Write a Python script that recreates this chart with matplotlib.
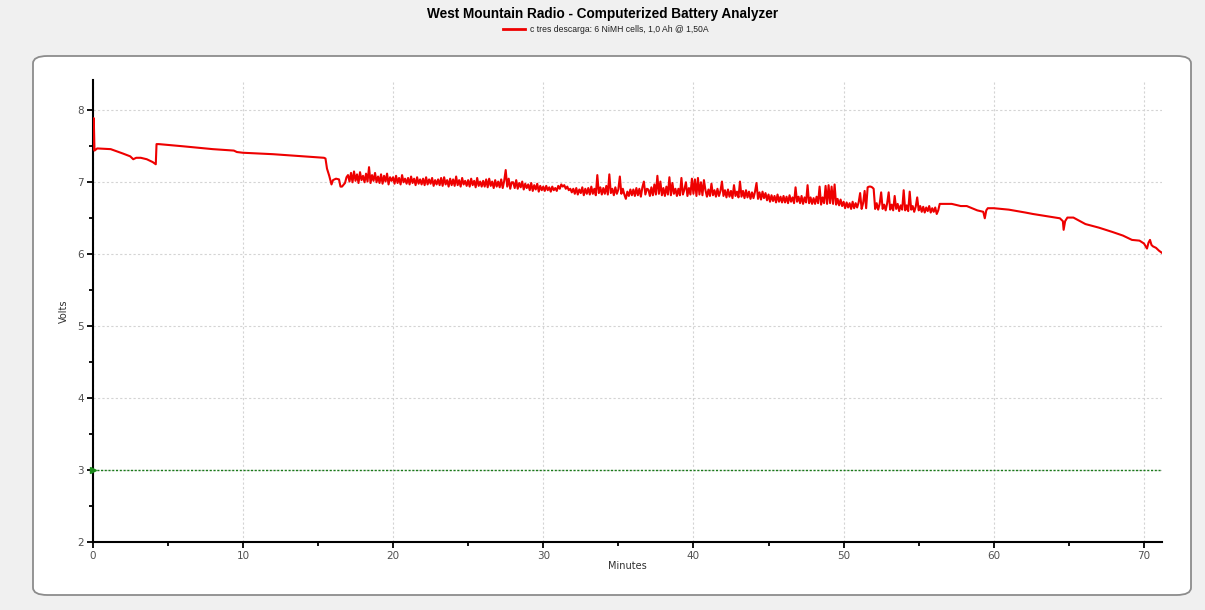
import numpy as np
import matplotlib
matplotlib.use("Agg")
import matplotlib.pyplot as plt
from matplotlib.patches import FancyBboxPatch
from matplotlib.lines import Line2D
from matplotlib.ticker import MultipleLocator

# ---------------- data ----------------
title = "West Mountain Radio - Computerized Battery Analyzer"
series_label = "c tres descarga: 6 NiMH cells, 1,0 Ah @ 1,50A"
x_label = "Minutes"
y_label = "Volts"
cutoff_voltage = 3.0

# start of discharge (minutes, volts)
pre_t = [0.02, 0.07, 0.12, 0.3, 1.2, 1.6, 2.0, 2.5, 2.7, 2.9, 3.2, 3.6, 4.0,
         4.2, 4.25, 4.4, 6, 8, 9.4, 9.6, 10, 12, 14, 15.4, 15.5, 15.6, 15.75,
         15.9, 16.0, 16.2, 16.4, 16.5, 16.6, 16.8, 16.9]
pre_v = [7.45, 7.88, 7.43, 7.46, 7.45, 7.42, 7.39, 7.35, 7.31, 7.33, 7.33, 7.31,
         7.27, 7.24, 7.52, 7.52, 7.49, 7.45, 7.43, 7.41, 7.40, 7.38, 7.35, 7.33,
         7.32, 7.18, 7.08, 6.96, 7.02, 7.04, 7.03, 6.93, 6.93, 6.98, 7.06]

# noisy middle part, logged every 0.1 min starting at 17.0 min
noisy_start = 17.0
noisy_step = 0.1
noisy_v = [
    7.09, 7.00, 7.12, 6.99, 7.14, 7.01, 7.10, 6.98, 7.13, 7.02,
    7.08, 6.99, 7.11, 7.00, 7.20, 6.98, 7.09, 7.01, 7.12, 6.99,
    7.07, 6.98, 7.10, 6.97, 7.08, 7.00, 7.11, 6.96, 7.06, 7.01,
    7.06, 6.97, 7.08, 6.98, 7.05, 6.96, 7.09, 6.99, 7.04, 6.97,
    7.05, 6.96, 7.07, 6.98, 7.04, 6.95, 7.06, 6.97, 7.03, 6.96,
    7.04, 6.95, 7.06, 6.96, 7.03, 6.97, 7.05, 6.94, 7.02, 6.96,
    7.03, 6.95, 7.05, 6.94, 7.06, 6.96, 7.02, 6.93, 7.04, 6.95,
    7.03, 6.94, 7.07, 6.95, 7.02, 6.93, 7.05, 6.96, 7.01, 6.94,
    7.02, 6.93, 7.04, 6.95, 7.01, 6.92, 7.05, 6.94, 7.00, 6.93,
    7.01, 6.93, 7.03, 6.92, 7.04, 6.94, 7.00, 6.91, 7.02, 6.93,
    7.00, 6.92, 7.03, 6.91, 7.01, 7.16, 6.93, 7.04, 6.90, 6.99,
    6.99, 6.91, 7.02, 6.90, 6.98, 6.92, 7.00, 6.89, 6.97, 6.91,
    6.96, 6.88, 6.98, 6.87, 6.95, 6.89, 6.97, 6.86, 6.94, 6.88,
    6.93, 6.87, 6.94, 6.88, 6.92, 6.86, 6.93, 6.88, 6.91, 6.87,
    6.94, 6.90, 6.96, 6.93, 6.95, 6.90, 6.93, 6.88, 6.90, 6.85,
    6.90, 6.83, 6.91, 6.82, 6.89, 6.84, 6.92, 6.81, 6.90, 6.83,
    6.91, 6.82, 6.93, 6.83, 6.90, 6.81, 7.09, 6.84, 6.92, 6.82,
    6.91, 6.83, 6.94, 6.82, 7.10, 6.84, 6.90, 6.81, 6.92, 6.83,
    6.89, 7.07, 6.83, 6.90, 6.82, 6.76, 6.86, 6.80, 6.89, 6.81,
    6.89, 6.80, 6.91, 6.81, 6.90, 6.79, 6.92, 7.00, 6.82, 6.90,
    6.89, 6.80, 6.92, 6.81, 6.96, 6.82, 7.08, 6.83, 7.00, 6.81,
    6.91, 6.80, 6.93, 6.82, 7.06, 6.81, 6.98, 6.83, 6.90, 6.80,
    6.90, 6.81, 7.05, 6.82, 6.89, 6.99, 6.80, 6.91, 6.82, 7.04,
    6.83, 7.03, 6.80, 7.05, 6.82, 6.99, 6.81, 7.02, 6.88, 6.79,
    6.89, 6.80, 6.97, 6.81, 6.88, 6.79, 6.90, 6.80, 6.87, 7.00,
    6.80, 6.88, 6.78, 6.89, 6.79, 6.87, 6.77, 6.95, 6.80, 6.86,
    6.78, 7.00, 6.79, 6.87, 6.77, 6.88, 6.78, 6.86, 6.76, 6.85,
    6.77, 6.86, 6.98, 6.76, 6.85, 6.75, 6.86, 6.77, 6.84, 6.74,
    6.82, 6.72, 6.81, 6.73, 6.80, 6.71, 6.82, 6.72, 6.79, 6.71,
    6.80, 6.71, 6.79, 6.70, 6.81, 6.72, 6.78, 6.70, 6.92, 6.72,
    6.79, 6.70, 6.80, 6.69, 6.78, 6.71, 6.95, 6.70, 6.78, 6.69,
    6.77, 6.69, 6.79, 6.70, 6.93, 6.68, 6.78, 6.70, 6.94, 6.69,
    6.95, 6.70, 6.93, 6.69, 6.96, 6.68, 6.76, 6.67, 6.75, 6.66,
    6.72, 6.63, 6.71, 6.64, 6.70, 6.62, 6.72, 6.63, 6.70, 6.64,
    6.71, 6.84, 6.62, 6.70, 6.87, 6.63, 6.92, 6.93, 6.93, 6.92,
    6.90, 6.62, 6.70, 6.61, 6.69, 6.85, 6.62, 6.68, 6.60, 6.70,
    6.85, 6.61, 6.68, 6.60, 6.80, 6.62, 6.69, 6.59, 6.67, 6.61,
    6.88, 6.60, 6.67, 6.59, 6.86, 6.61, 6.66, 6.58, 6.65, 6.78,
    6.60, 6.66, 6.58, 6.65, 6.57, 6.64, 6.59, 6.66, 6.57, 6.63,
    6.58, 6.64, 6.55, 6.60,
]

# end of discharge
tail_t = [56.4, 57.2, 57.8, 58.2, 58.9, 59.3, 59.4, 59.5, 59.6, 60.0, 61.0,
          62.1, 62.6, 63.5, 64.4, 64.6, 64.65, 64.75, 64.9, 65.3, 66.1, 67.0,
          67.9, 68.6, 69.2, 69.7, 70.0, 70.2, 70.3, 70.4, 70.5, 70.6, 70.8,
          71.0, 71.2]
tail_v = [6.69, 6.69, 6.66, 6.66, 6.60, 6.58, 6.49, 6.60, 6.63, 6.63, 6.61,
          6.57, 6.55, 6.52, 6.49, 6.45, 6.33, 6.45, 6.50, 6.50, 6.41, 6.36,
          6.30, 6.25, 6.19, 6.18, 6.14, 6.07, 6.15, 6.19, 6.12, 6.10, 6.08,
          6.04, 6.01]

x_ticks = [0, 10, 20, 30, 40, 50, 60, 70]
y_ticks = [2, 3, 4, 5, 6, 7, 8]

noisy_t = noisy_start + noisy_step * np.arange(len(noisy_v))
t_all = np.concatenate([pre_t, noisy_t, tail_t])
v_all = np.concatenate([pre_v, noisy_v, tail_v])

# ---------------- figure ----------------
W, H = 1205, 610
fig = plt.figure(figsize=(W / 100, H / 100), dpi=100)
fig.patch.set_facecolor("#f0f0f0")

panel = FancyBboxPatch((33 / W, 1 - 595 / H), (1191 - 33) / W, (595 - 56) / H,
                       boxstyle="round,pad=0,rounding_size=0.012",
                       transform=fig.transFigure, facecolor="white",
                       edgecolor="#8c8c8c", linewidth=1.3, zorder=-5)
fig.patches.append(panel)

ax = fig.add_axes([92.7 / W, 1 - 541.7 / H, (1162.3 - 92.7) / W, (541.7 - 80) / H])
ax.set_zorder(2)
ax.set_facecolor("white")

ax.plot(t_all, v_all, color="#ee0000", lw=1.5, zorder=3)
ax.axhline(cutoff_voltage, color="#1a7a1a", lw=1.0, ls=(0, (1.5, 1.2)), zorder=2)
ax.plot([0], [cutoff_voltage], marker=">", color="#1a8a1a", ms=4.5,
        clip_on=False, zorder=4)

ax.set_xlim(0, 71.22)
ax.set_ylim(2, 8.41)
ax.set_xticks(x_ticks)
ax.set_yticks(y_ticks)
ax.xaxis.set_minor_locator(MultipleLocator(5))
ax.yaxis.set_minor_locator(MultipleLocator(0.5))

ax.grid(True, which="major", color="#d4d4d4", lw=0.8, ls=(0, (2, 2)), zorder=1)
ax.set_axisbelow(True)
for s in ["top", "right"]:
    ax.spines[s].set_visible(False)
for s in ["left", "bottom"]:
    ax.spines[s].set_linewidth(1.5)
    ax.spines[s].set_color("black")

ax.tick_params(which="major", length=4, width=1.3, color="black",
               labelsize=7.5, labelcolor="#505050", pad=2.5)
ax.tick_params(which="minor", length=3, width=1.3, color="black")

ax.set_xlabel(x_label, fontsize=7, color="#303030")
ax.set_ylabel(y_label, fontsize=7, color="#303030")
ax.xaxis.set_label_coords(0.5, -0.042)
ax.yaxis.set_label_coords(-0.022, 0.5)

fig.text(0.5, 1 - 14 / H, title, ha="center", va="center",
         fontsize=9.8, fontweight="bold", family="Liberation Sans", color="black")
fig.add_artist(Line2D([503 / W, 525 / W], [1 - 29 / H, 1 - 29 / H],
                      transform=fig.transFigure, color="#ee0000", lw=2.0))
fig.text(530 / W, 1 - 29 / H, series_label, ha="left", va="center",
         fontsize=6.2, family="Liberation Sans", color="#202020")

fig.savefig("out.png", dpi=100, facecolor=fig.get_facecolor())
